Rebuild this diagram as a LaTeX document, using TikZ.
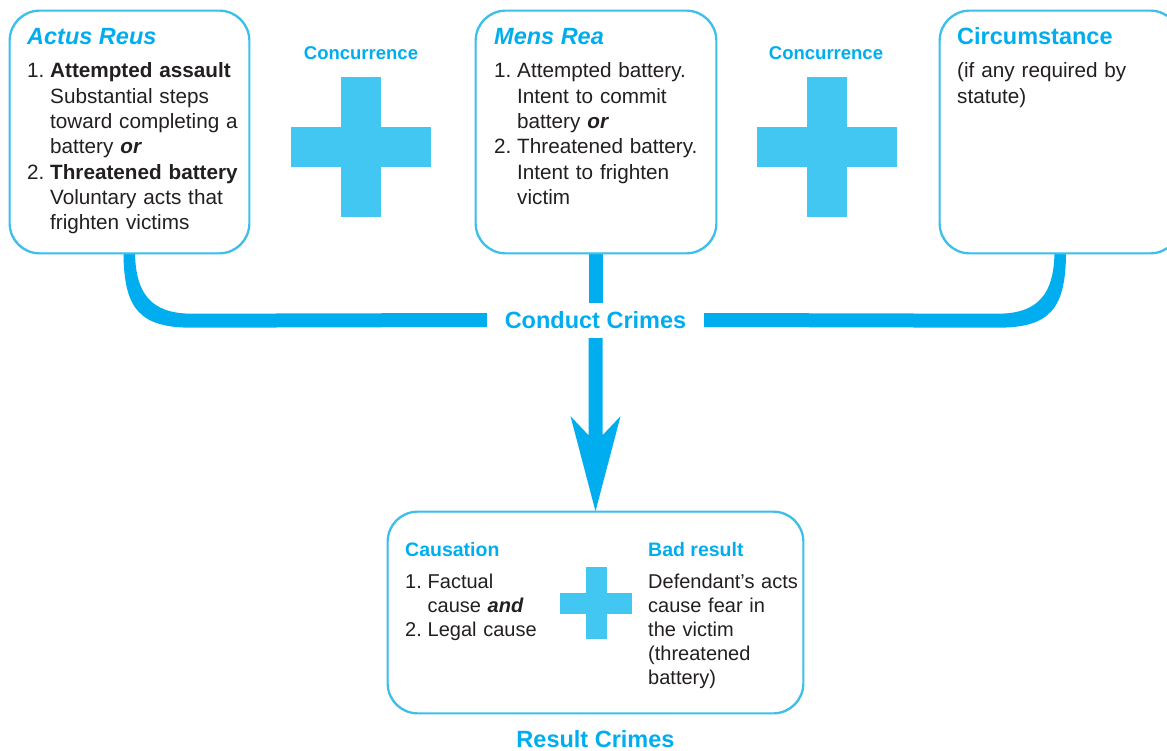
\documentclass[tikz,border=0pt]{standalone}
\usepackage{fontspec}
\setmainfont{Liberation Sans}
\usetikzlibrary{calc}

\definecolor{framec}{HTML}{3DBFEC}
\definecolor{flowc}{HTML}{00AEEF}
\definecolor{plusc}{HTML}{42C6F2}
\definecolor{headc}{HTML}{00AEEF}
\definecolor{inkc}{HTML}{231F20}

\newcommand{\itemno}[1]{\makebox[23pt][l]{#1}}
\newcommand{\itemgap}{\hspace*{23pt}}
\newcommand{\smallno}[1]{\makebox[22.5pt][l]{#1}}
\newcommand{\smallgap}{\hspace*{22.5pt}}

\tikzset{
  panel/.style={draw=framec, line width=1.4pt, rounded corners=30pt, fill=white, inner sep=0pt},
  heading/.style={font=\fontsize{23.5}{28}\selectfont\bfseries, text=headc, anchor=base west, inner sep=0pt},
  bighead/.style={font=\fontsize{23.5}{28}\selectfont\bfseries, text=headc, inner sep=0pt},
  subhead/.style={font=\fontsize{18.5}{22}\selectfont\bfseries, text=headc, inner sep=0pt},
  minorhead/.style={font=\fontsize{19.5}{24}\selectfont\bfseries, text=headc, anchor=base west, inner sep=0pt},
  body/.style={font=\fontsize{20.7}{25.3}\selectfont, text=inkc, anchor=base west, inner sep=0pt, align=left, text width=225pt},
  smallbody/.style={font=\fontsize{20}{24.1}\selectfont, text=inkc, anchor=base west, inner sep=0pt, align=left, text width=160pt},
  flow/.style={fill=flowc},
  pics/plussign/.style args={#1/#2}{code={
    \fill[plusc] (-#2,-#1) rectangle (#2,#1);
    \fill[plusc] (-#1,-#2) rectangle (#1,#2);
  }}
}

\begin{document}
\begin{tikzpicture}[x=1pt, y=-1pt]
\clip (0,0) rectangle (1167,751);
\fill[white] (0,0) rectangle (1167,751);

% element boxes (placed first so connectors can refer to them)
\node[panel, minimum width=239pt, minimum height=242pt] (actus) at (129.5,132) {};
\node[panel, minimum width=240pt, minimum height=242pt] (mens) at (596,132) {};
\node[panel, minimum width=240pt, minimum height=242pt] (circ) at (1060,132) {};
\node[panel, minimum width=415pt, minimum height=201pt] (result) at (595.5,612.5) {};

% hub label where the three branches meet
\node[bighead, minimum width=217pt, minimum height=35pt] (conduct) at (595.5,320.5) {Conduct Crimes};

% left branch
\fill[flow] ($(actus.south)+(-6,0)$)
  .. controls ($(actus.south)+(-5.5,55)$) and ($(actus.south)+(10,74)$) .. ($(actus.south)+(62.5,74)$)
  -- ($(conduct.west)+(0,6.5)$) -- ($(conduct.west)+(0,-7.5)$)
  -- ($(actus.south)+(62.5,60)$)
  .. controls ($(actus.south)+(20.5,60)$) and ($(actus.south)+(6.5,39)$) .. ($(actus.south)+(5.5,0)$)
  -- cycle;

% right branch
\fill[flow] ($(circ.south)+(6,0)$)
  .. controls ($(circ.south)+(5.5,55)$) and ($(circ.south)+(-10,74)$) .. ($(circ.south)+(-62.5,74)$)
  -- ($(conduct.east)+(0,6.5)$) -- ($(conduct.east)+(0,-7.5)$)
  -- ($(circ.south)+(-62.5,60)$)
  .. controls ($(circ.south)+(-20.5,60)$) and ($(circ.south)+(-6.5,39)$) .. ($(circ.south)+(-5.5,0)$)
  -- cycle;

% middle stem
\fill[flow] ($(mens.south)+(-7,0)$) rectangle ($(conduct.north)+(7,0)$);

% arrow down to the result box
\fill[flow] ($(conduct.south)+(-7,0)$) -- ($(conduct.south)+(-7,97)$)
  -- ($(conduct.south)+(-25,78)$) -- (result.north)
  -- ($(conduct.south)+(25,78)$) -- ($(conduct.south)+(7,97)$)
  -- ($(conduct.south)+(7,0)$) -- cycle;

% redraw box outlines over the branch ends
\draw[framec, line width=1.4pt, rounded corners=30pt] (actus.north west) rectangle (actus.south east);
\draw[framec, line width=1.4pt, rounded corners=30pt] (mens.north west) rectangle (mens.south east);
\draw[framec, line width=1.4pt, rounded corners=30pt] (circ.north west) rectangle (circ.south east);
\draw[framec, line width=1.4pt, rounded corners=30pt] (result.north west) rectangle (result.south east);

% plus signs
\pic at (361,147.5) {plussign={70/20}};
\pic at (827,147.5) {plussign={70/20}};
\pic at (596,603) {plussign={36/10.5}};

% concurrence labels
\node[subhead, anchor=base] (conc1) at (361,60) {Concurrence};
\node[subhead, anchor=base] (conc2) at (826,60) {Concurrence};

% actus reus
\node[heading, font=\fontsize{23.5}{28}\selectfont\bfseries\itshape] (actushead) at (27,45) {Actus Reus};
\node[body] (actustext) at (27,78) {%
\itemno{1.}\textbf{Attempted assault}\\
\itemgap Substantial steps\\
\itemgap toward completing a\\
\itemgap battery \textbf{\textit{or}}\\
\itemno{2.}\textbf{Threatened battery}\\
\itemgap Voluntary acts that\\
\itemgap frighten victims};

% mens rea
\node[heading, font=\fontsize{23.5}{28}\selectfont\bfseries\itshape] (menshead) at (494,45) {Mens Rea};
\node[body] (menstext) at (494,78) {%
\itemno{1.}Attempted battery.\\
\itemgap Intent to commit\\
\itemgap battery \textbf{\textit{or}}\\
\itemno{2.}Threatened battery.\\
\itemgap Intent to frighten\\
\itemgap victim};

% circumstance
\node[heading] (circhead) at (957,45) {Circumstance};
\node[body] (circtext) at (957,78) {(if any required by\\statute)};

% result box contents
\node[minorhead] (caushead) at (405,556) {Causation};
\node[smallbody] (caustext) at (405,588) {%
\smallno{1.}Factual\\
\smallgap cause \textbf{\textit{and}}\\
\smallno{2.}Legal cause};
\node[minorhead] (badhead) at (648,556) {Bad result};
\node[smallbody] (badtext) at (648,588) {%
Defendant’s acts\\
cause fear in\\
the victim\\
(threatened\\
battery)};

\node[bighead, anchor=base] (resultlabel) at (595.5,747.5) {Result Crimes};
\end{tikzpicture}
\end{document}
